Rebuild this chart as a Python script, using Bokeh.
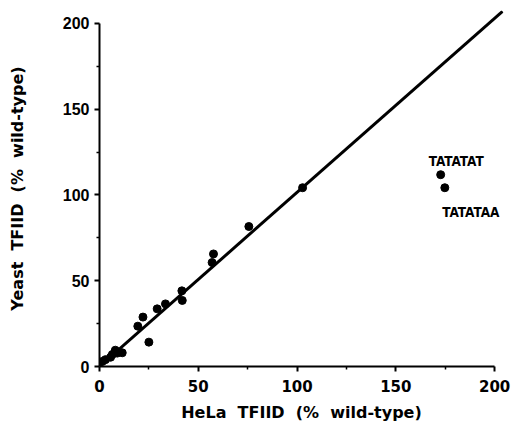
from bokeh.plotting import figure
from bokeh.models import Range1d, FixedTicker, ColumnDataSource
from bokeh.embed import file_html
from bokeh.resources import INLINE
from bokeh.core.properties import value

# data
hela = [1.4, 3.0, 5.6, 6.5, 8.1, 9.0, 11.5, 8.0, 19.4, 22.0, 25.0, 29.2, 33.4,
        41.7, 41.9, 57.0, 57.7, 75.6, 102.8, 172.7, 174.8]
yeast = [2.9, 4.0, 5.4, 7.0, 8.5, 7.8, 8.0, 9.5, 23.5, 28.8, 14.2, 33.6, 36.5,
         44.1, 38.5, 60.6, 65.6, 81.6, 104.2, 111.8, 104.2]
fit_x = [0, 204]
fit_y = [0, 207]
label_names = ["TATATAT", "TATATAA"]
label_x = [172.7, 174.8]
label_y = [111.8, 104.2]
tick_values = [0, 50, 100, 150, 200]
minor_values = [25, 75, 125, 175]

p = figure(width=515, height=431, output_backend="svg", toolbar_location=None,
           x_range=Range1d(0, 204.5), y_range=Range1d(0, 207.5),
           min_border_left=99, min_border_right=12, min_border_top=10, min_border_bottom=65)
p.outline_line_color = None
p.grid.visible = False
p.background_fill_color = "white"

p.line(fit_x, fit_y, line_width=3, line_color="black")
p.scatter(hela, yeast, size=8, color="black")

src = ColumnDataSource(dict(x=label_x, y=label_y, t=label_names,
                            xo=[-12, -2.6], yo=[-13.6, 24.4]))
p.text("x", "y", text="t", x_offset="xo", y_offset="yo", source=src,
       text_font=value("DejaVu Sans Condensed"), text_font_style="bold",
       text_font_size="13.5px", text_align="left", text_baseline="middle",
       text_color="black")

for ax in (p.xaxis[0], p.yaxis[0]):
    ax.ticker = FixedTicker(ticks=tick_values, minor_ticks=minor_values)
    ax.bounds = (0, 200)
    ax.axis_line_width = 2
    ax.major_tick_line_width = 2
    ax.minor_tick_line_width = 1.5
    ax.major_tick_out = 5
    ax.major_tick_in = 0
    ax.minor_tick_out = 3
    ax.minor_tick_in = 0
    ax.major_label_text_font_style = "bold"
    ax.axis_label_text_font_style = "bold"
    ax.axis_label_text_color = "black"
    ax.major_label_text_color = "black"

gap = " \u00a0"
p.xaxis.axis_label = gap.join(["HeLa", "TFIID", "(%", "wild-type)"])
p.yaxis.axis_label = gap.join(["Yeast", "TFIID", "(%", "wild-type)"])
p.xaxis.axis_label_text_font = "DejaVu Sans"
p.yaxis.axis_label_text_font = "DejaVu Sans"
p.xaxis.axis_label_text_font_size = "16px"
p.yaxis.axis_label_text_font_size = "16px"
p.xaxis.major_label_text_font = "DejaVu Sans"
p.xaxis.major_label_text_font_size = "15px"
p.yaxis.major_label_text_font = "Liberation Sans"
p.yaxis.major_label_text_font_size = "16px"
p.xaxis.major_label_standoff = 8
p.yaxis.major_label_standoff = 5
p.xaxis.axis_label_standoff = 8
p.yaxis.axis_label_standoff = 33

open("out.html", "w").write(file_html(p, INLINE))
